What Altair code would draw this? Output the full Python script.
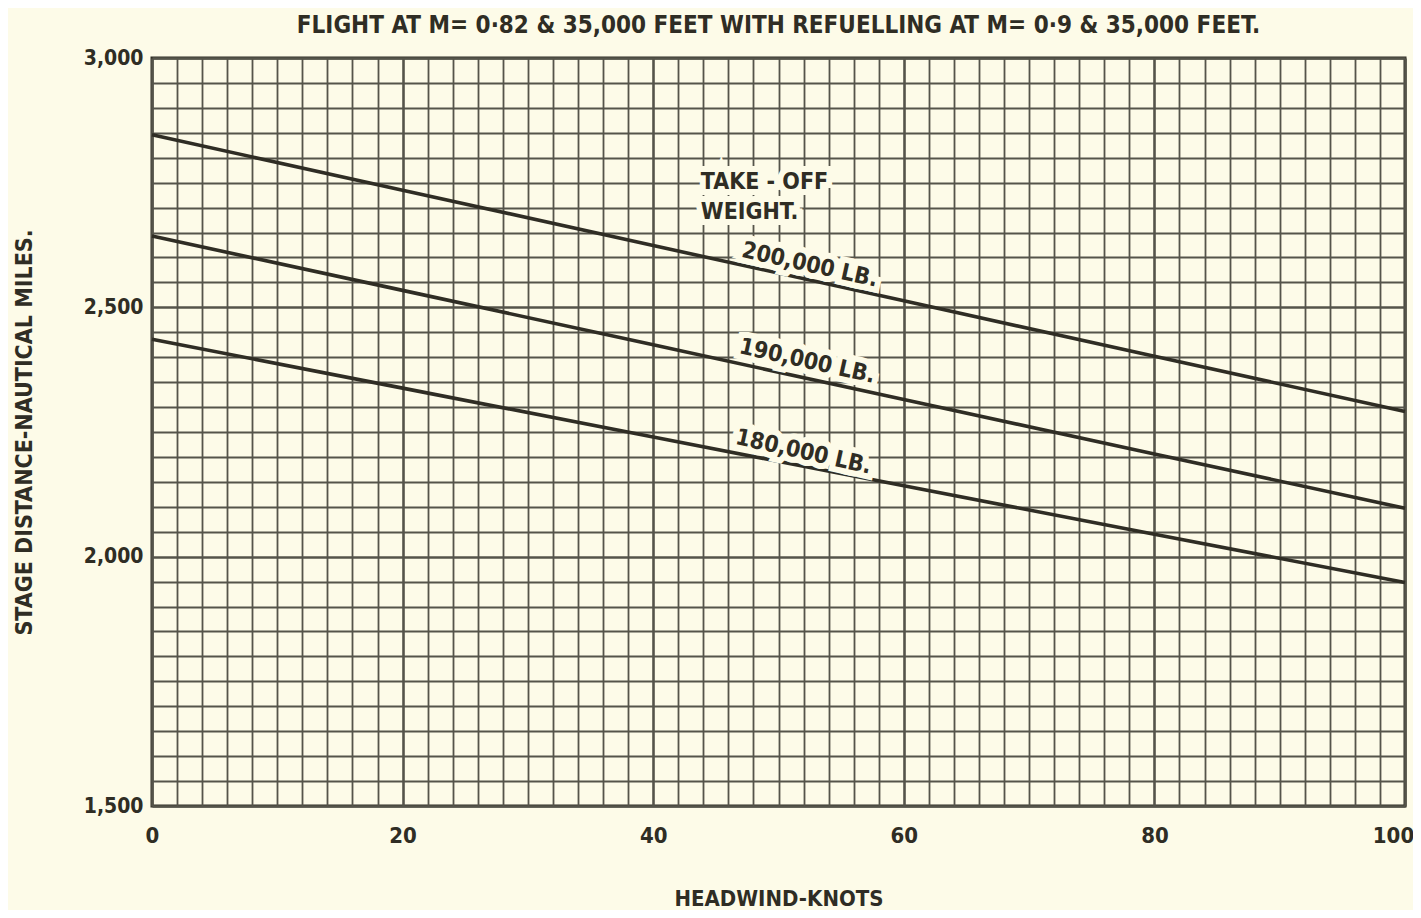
import altair as alt
import pandas as pd

# ---- data ----
headwind = [0, 20, 40, 60, 80, 100]
dist_200k = [2846, 2735, 2624, 2513, 2402, 2291]
dist_190k = [2643, 2534, 2425, 2315, 2206, 2097]
dist_180k = [2436, 2338, 2240, 2142, 2045, 1948]
weights = ["200,000 LB.", "190,000 LB.", "180,000 LB."]

label_text = ["200,000 LB.", "190,000 LB.", "180,000 LB."]
label_x = [52.5, 52.3, 52.0]
label_y = [2585, 2392, 2210]

note_text = ["TAKE - OFF", "WEIGHT."]
note_x = [43.8, 43.8]
note_y = [2752, 2692]

x_grid = list(range(0, 101, 2))
y_grid = list(range(1500, 3001, 50))

BG = "#fdfbe8"
INK = "#2f2d24"
GRID = "#55544a"
FONT = "DejaVu Sans Condensed"

rows = []
for w, series in zip(weights, [dist_200k, dist_190k, dist_180k]):
    for h, d in zip(headwind, series):
        rows.append({"headwind": h, "distance": d, "weight": w})
lines_df = pd.DataFrame(rows)
labels_df = pd.DataFrame({"text": label_text, "x": label_x, "y": label_y})
notes_df = pd.DataFrame({"text": note_text, "x": note_x, "y": note_y})

x_scale = alt.Scale(domain=[0, 100], nice=False, zero=False)
y_scale = alt.Scale(domain=[1500, 3000], nice=False, zero=False)

x_axis = alt.Axis(
    values=x_grid,
    labelExpr="datum.value % 20 == 0 ? datum.label : ''",
    labelOverlap=False,
    ticks=False, domain=False, grid=True,
    gridColor=GRID,
    gridWidth={"condition": {"test": "datum.value % 20 === 0", "value": 2.6}, "value": 1.8},
    labelFont=FONT, labelFontSize=22, labelFontWeight="bold", labelColor=INK,
    labelPadding=19, labelFlush=False,
    labelOffset={"condition": {"test": "datum.value === 100", "value": -12}, "value": 0},
    title="HEADWIND-KNOTS", titleFont=FONT, titleFontSize=22, titleFontWeight="bold",
    titleColor=INK, titlePadding=42,
)
y_axis = alt.Axis(
    values=y_grid,
    labelExpr="datum.value % 500 == 0 ? format(datum.value, ',') : ''",
    labelOverlap=False,
    ticks=False, domain=False, grid=True,
    gridColor=GRID,
    gridWidth={"condition": {"test": "datum.value % 500 === 0", "value": 2.6}, "value": 1.8},
    labelFont=FONT, labelFontSize=21, labelFontWeight="bold", labelColor=INK,
    labelPadding=9, labelFlush=False,
    title="STAGE DISTANCE-NAUTICAL MILES.", titleFont=FONT, titleFontSize=23,
    titleFontWeight="bold", titleColor=INK, titlePadding=47,
)

def xenc(field):
    return alt.X(field, scale=x_scale, axis=x_axis)

def yenc(field):
    return alt.Y(field, scale=y_scale, axis=y_axis)

base_lines = alt.Chart(lines_df).mark_line(color=INK, strokeWidth=3.6).encode(
    x=xenc("headwind:Q"),
    y=yenc("distance:Q"),
    detail="weight:N",
)

halo_labels = alt.Chart(labels_df).mark_text(
    font=FONT, fontSize=23, fontWeight="bold", angle=12.5,
    color=BG, stroke=BG, strokeWidth=12, align="center", baseline="middle",
).encode(x=xenc("x:Q"), y=yenc("y:Q"), text="text:N")

halo_notes = alt.Chart(notes_df).mark_text(
    font=FONT, fontSize=23, fontWeight="bold",
    color=BG, stroke=BG, strokeWidth=12, align="left", baseline="middle",
).encode(x=xenc("x:Q"), y=yenc("y:Q"), text="text:N")

text_labels = alt.Chart(labels_df).mark_text(
    font=FONT, fontSize=23, fontWeight="bold", angle=12.5,
    color=INK, align="center", baseline="middle",
).encode(x=xenc("x:Q"), y=yenc("y:Q"), text="text:N")

text_notes = alt.Chart(notes_df).mark_text(
    font=FONT, fontSize=23, fontWeight="bold",
    color=INK, align="left", baseline="middle",
).encode(x=xenc("x:Q"), y=yenc("y:Q"), text="text:N")

chart = alt.layer(base_lines, halo_labels, halo_notes, text_labels, text_notes).properties(
    width=1253, height=748,
    autosize=alt.AutoSizeParams(type="none"),
    padding={"left": 144, "top": 50, "right": 8, "bottom": 104},
    background=BG,
    title=alt.TitleParams(
        "FLIGHT AT M= 0·82 & 35,000 FEET WITH REFUELLING AT M= 0·9 & 35,000 FEET.",
        font=FONT, fontSize=24, fontWeight="bold", color=INK, anchor="middle", offset=9,
    ),
).configure_view(stroke=INK, strokeWidth=3)

chart.save("out.html", embed_options={"renderer": "svg", "actions": False})
